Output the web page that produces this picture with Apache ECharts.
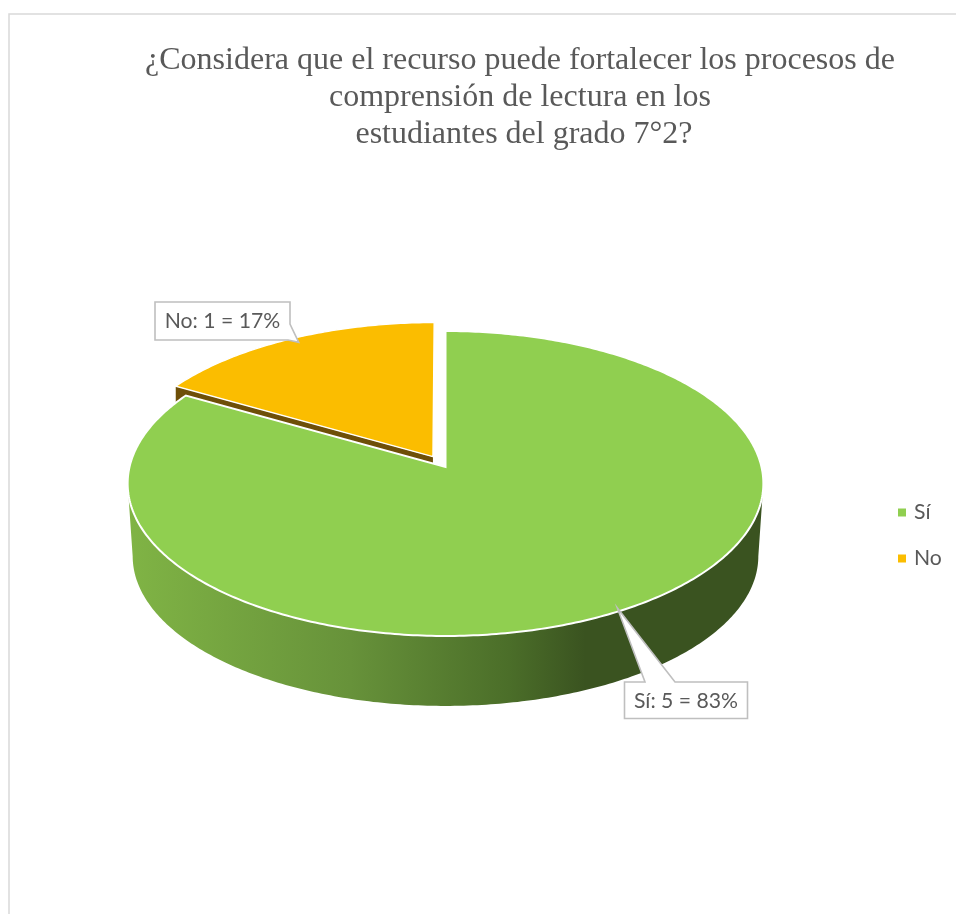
<!DOCTYPE html>
<html>
<head>
<meta charset="utf-8">
<style>html,body{margin:0;padding:0;background:#fff}#c{width:956px;height:914px}</style>
<script src="https://cdn.jsdelivr.net/npm/echarts@6/dist/echarts.min.js"></script>
</head>
<body>
<div id="c"></div>
<script>
const categories = ['Sí', 'No'];
const values = [5, 1];
const titleLines = [
  '¿Considera que el recurso puede fortalecer los procesos de',
  'comprensión de lectura en los',
  '\u00a0estudiantes del grado 7°2?'
];
const total = values.reduce((a, b) => a + b, 0);

// Perspective model of the tilted disc (Office-style 3D pie)
const K = 0.108;
const TOP = { x: 445.5, y: 467, a: 150.7, b: 316 };
const BOTTOM = { x: 445.5, y: 540, a: 148, b: 311 };
const EXPLODE = 0.08;
const rad = d => d * Math.PI / 180;

function project(layer, s, c) {
  const den = 1 + K * c;
  return [layer.x + layer.b * s / den, layer.y - layer.a * c / den];
}
function onDisc(layer, deg, r, ox, oy) {
  return project(layer, r * Math.sin(rad(deg)) + ox, r * Math.cos(rad(deg)) + oy);
}
function arc(layer, from, to, ox, oy) {
  const n = Math.max(2, Math.ceil(Math.abs(to - from) / 0.75));
  const pts = [];
  for (let i = 0; i <= n; i++) pts.push(onDisc(layer, from + (to - from) * i / n, 1, ox, oy));
  return pts;
}
function angles(index) {
  let before = 0;
  for (let i = 0; i < index; i++) before += values[i];
  return [before / total * 360, (before + values[index]) / total * 360];
}

const FONT = '21.2px Lato, "Open Sans", sans-serif';
const GRAY = '#595959';
const colours = ['#90cf50', '#fbbd00'];

function callout(index, box, tip, tailA, tailB) {
  const v = values[index];
  const text = categories[index] + ': ' + v + ' = ' + Math.round(v / total * 100) + '%';
  const [x0, y0, x1, y1] = box;
  let points;
  if (index === 0) {
    points = [[x0, y0], tailA, tip, tailB, [x1, y0], [x1, y1], [x0, y1]];
  } else {
    points = [[x0, y0], [x1, y0], tailA, tip, tailB, [x0, y1]];
  }
  return [
    { type: 'polygon', shape: { points },
      style: { fill: '#fff', stroke: '#bfbfbf', lineWidth: 1.6 } },
    { type: 'text', style: { text, x: (x0 + x1) / 2, y: (y0 + y1) / 2 + 0.5, fill: GRAY, font: FONT,
      textAlign: 'center', textVerticalAlign: 'middle' } }
  ];
}

function renderSi(params, api) {
  const [a0, a1] = angles(0);
  const left = 263.8, right = 96.2;
  const wall = arc(TOP, right, left, 0, 0).concat(arc(BOTTOM, left, right, 0, 0));
  const top = [project(TOP, 0, 0)].concat(arc(TOP, a0, a1, 0, 0));
  const mid = onDisc(TOP, (a0 + a1) / 2, 1, 0, 0);
  return { type: 'group', children: [
    { type: 'polygon', shape: { points: wall }, style: {
      fill: new echarts.graphic.LinearGradient(0, 0, 1, 0, [
        { offset: 0, color: '#80b445' },
        { offset: 0.35, color: '#67923a' },
        { offset: 0.6, color: '#4b6e29' },
        { offset: 0.72, color: '#3a5320' },
        { offset: 1, color: '#3a5320' }
      ]) } },
    { type: 'polygon', shape: { points: top }, style: { fill: colours[0], stroke: '#fff', lineWidth: 2 } }
  ].concat(callout(0, [624.5, 682, 747.5, 718.5], [mid[0] - 2.5, mid[1] - 3], [645, 682], [675, 682])) };
}

function renderNo(params, api) {
  const [a0, a1] = angles(1);
  const m = (a0 + a1) / 2;
  const ox = EXPLODE * Math.sin(rad(m)), oy = EXPLODE * Math.cos(rad(m));
  const apex = project(TOP, ox, oy);
  const edge = onDisc(TOP, a0, 1, ox, oy);
  const d = [0, 70];
  const wall = [apex, edge, [edge[0] + d[0], edge[1] + d[1]], [apex[0] + d[0], apex[1] + d[1]]];
  const top = [apex].concat(arc(TOP, a0, a1, ox, oy));
  const tip = project(TOP, 0.96 * Math.sin(rad(m)) + ox, 0.96 * Math.cos(rad(m)) + oy);
  return { type: 'group', children: [
    { type: 'polygon', shape: { points: wall }, style: { fill: '#6e4f08' } },
    { type: 'polygon', shape: { points: top }, style: { fill: colours[1], stroke: '#fff', lineWidth: 1.4 } }
  ].concat(callout(1, [155, 302, 290, 340], [tip[0] + 3, tip[1] - 1], [290, 324], [288, 340])) };
}

const chart = echarts.init(document.getElementById('c'), null, { renderer: 'canvas' });
chart.setOption({
  animation: false,
  backgroundColor: '#fff',
  title: {
    text: titleLines.join('\n'),
    left: 515, top: 37, textAlign: 'center',
    textStyle: { fontFamily: '"Liberation Serif", serif', fontSize: 32, fontWeight: 'normal',
      color: GRAY, lineHeight: 37 }
  },
  legend: {
    orient: 'vertical', left: 893, top: 497, itemWidth: 8, itemHeight: 8, itemGap: 25,
    icon: 'rect', data: categories,
    textStyle: { fontFamily: 'Lato, "Open Sans", sans-serif', fontSize: 21.2, color: GRAY, padding: [0, 0, 0, 3] },
    itemStyle: { borderWidth: 0 }
  },
  graphic: [{ type: 'rect', silent: true, z: -1, shape: { x: 9, y: 14, width: 1200, height: 1200 },
    style: { fill: 'none', stroke: '#d9d9d9', lineWidth: 1.5 } }],
  series: [
    { type: 'custom', name: categories[0], z: 3, data: [[values[0]]], coordinateSystem: 'none',
      itemStyle: { color: colours[0] }, renderItem: renderSi, silent: true },
    { type: 'custom', name: categories[1], z: 2, data: [[values[1]]], coordinateSystem: 'none',
      itemStyle: { color: colours[1] }, renderItem: renderNo, silent: true }
  ]
});
</script>
</body>
</html>
